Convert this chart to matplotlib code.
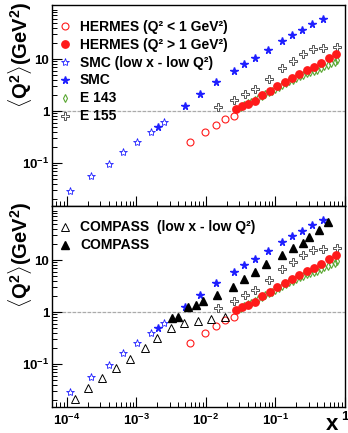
import matplotlib
matplotlib.use("Agg")
import matplotlib.pyplot as plt
from matplotlib.ticker import FixedLocator, LogLocator, NullFormatter, FixedFormatter
import numpy as np

plt.rcParams['font.family'] = ['Liberation Sans', 'DejaVu Sans']
plt.rcParams['font.weight'] = 'bold'
plt.rcParams['mathtext.fontset'] = 'custom'
plt.rcParams['mathtext.rm'] = 'Liberation Sans:bold'
plt.rcParams['mathtext.bf'] = 'Liberation Sans:bold'
plt.rcParams['mathtext.it'] = 'Liberation Sans:bold'
plt.rcParams['mathtext.sf'] = 'Liberation Sans:bold'

# ---------------- data (x, <Q^2>) ----------------
smc_lowx_x = [1.12e-4, 2.19e-4, 3.98e-4, 6.46e-4, 1.02e-3, 1.62e-3, 2.51e-3]
smc_lowx_q = [0.029, 0.057, 0.096, 0.165, 0.257, 0.39, 0.62]

smc_x = [2.04e-3, 5.0e-3, 8.1e-3, 1.41e-2, 2.51e-2, 3.55e-2, 5.0e-2, 7.8e-2,
         0.123, 0.174, 0.243, 0.339, 0.479]
smc_q = [0.49, 1.28, 2.09, 3.66, 5.8, 7.9, 10.6, 15.1, 21.9, 29.0, 37.0, 48.0, 60.0]

hermes_lo_x = [5.9e-3, 9.8e-3, 1.41e-2, 1.91e-2, 2.51e-2]
hermes_lo_q = [0.25, 0.40, 0.55, 0.70, 0.80]

hermes_hi_x = [0.0269, 0.0331, 0.0407, 0.0513, 0.0646, 0.0832, 0.105, 0.135,
               0.174, 0.219, 0.282, 0.355, 0.457, 0.589, 0.741]
hermes_hi_q = [1.11, 1.25, 1.34, 1.56, 2.0, 2.46, 2.98, 3.61, 4.37, 5.1,
               6.15, 7.2, 8.6, 10.3, 12.5]

e155_x = [0.0151, 0.0251, 0.0363, 0.0501, 0.0794, 0.126, 0.178, 0.251, 0.347,
          0.479, 0.759]
e155_q = [1.21, 1.63, 2.09, 2.61, 4.1, 6.6, 9.1, 12.6, 15.8, 16.3, 17.2]

e143_x = [0.0316, 0.0355, 0.0398, 0.0447, 0.0501, 0.0562, 0.0631, 0.0708, 0.0794,
          0.0891, 0.100, 0.112, 0.126, 0.141, 0.158, 0.178, 0.200, 0.224, 0.251,
          0.282, 0.316, 0.355, 0.398, 0.447, 0.501, 0.562, 0.631, 0.708, 0.776]
e143_q = [1.20, 1.30, 1.41, 1.52, 1.66, 1.80, 1.95, 2.11, 2.29, 2.48, 2.69, 2.92,
          3.16, 3.42, 3.72, 4.03, 4.37, 4.68, 5.01, 5.30, 5.62, 5.96, 6.31, 6.76,
          7.24, 7.76, 8.32, 8.91, 9.55]

compass_lowx_x = [1.32e-4, 2.0e-4, 3.24e-4, 5.0e-4, 8.1e-4, 1.32e-3, 2.0e-3,
                  3.1e-3, 4.9e-3, 7.8e-3, 1.2e-2, 1.9e-2]
compass_lowx_q = [0.021, 0.034, 0.053, 0.083, 0.127, 0.20, 0.32, 0.50, 0.62,
                  0.67, 0.74, 0.81]

compass_x = [3.3e-3, 3.9e-3, 5.5e-3, 7.1e-3, 9.1e-3, 1.45e-2, 2.45e-2, 3.55e-2,
             5.0e-2, 7.4e-2, 0.123, 0.178, 0.248, 0.302, 0.417, 0.562]
compass_q = [0.78, 0.80, 1.23, 1.36, 1.62, 2.16, 3.1, 4.25, 5.9, 8.5, 12.6,
             16.8, 21.8, 28.0, 38.0, 55.0]

xticks = [1e-4, 1e-3, 1e-2, 1e-1, 1.0]
xticklabels = [r'$10^{-4}$', r'$10^{-3}$', r'$10^{-2}$', r'$10^{-1}$', '']
yticks = [0.1, 1.0, 10.0]
yticklabels = [r'$10^{-1}$', '1', '10']

top_labels = ['HERMES (Q² < 1 GeV²)', 'HERMES (Q² > 1 GeV²)',
              'SMC (low x - low Q²)', 'SMC', 'E 143', 'E 155']
bottom_labels = ['COMPASS  (low x - low Q²)', 'COMPASS']

RED = '#ff1a1a'
BLUE = '#1f1fff'
GREEN = '#5aa832'
GRAY = '#555555'

styles = {
    'hlo': dict(marker='o', ms=5, mfc='none', mec=RED, mew=0.8),
    'hhi': dict(marker='o', ms=5.3, mfc=RED, mec=RED),
    'slo': dict(marker='*', ms=6, mfc='white', mec=BLUE, mew=0.6),
    'smc': dict(marker='*', ms=5.5, mfc=BLUE, mec=BLUE),
    'e143': dict(marker='d', ms=4, mfc='none', mec=GREEN, mew=0.8),
    'e155': dict(marker='P', ms=6, mfc='white', mec=GRAY, mew=0.7),
    'clo': dict(marker='^', ms=5.5, mfc='none', mec='black', mew=0.7),
    'chi': dict(marker='^', ms=5.5, mfc='black', mec='black'),
}

fig = plt.figure(figsize=(3.48, 4.33), dpi=100)
ax1 = fig.add_axes([52/348, 1-206/433, 293/348, 201/433])
ax2 = fig.add_axes([52/348, 1-407/433, 293/348, 201/433])


def common(ax):
    ax.set_xscale('log')
    ax.set_yscale('log')
    ax.set_xlim(6.1e-5, 1.0)
    ax.set_ylim(0.0149, 110)
    ax.axhline(1.0, color='#aaaaaa', lw=0.9, ls=(0, (3, 1)), zorder=1)
    ax.plot(hermes_lo_x, hermes_lo_q, ls='none', **styles['hlo'])
    ax.plot(hermes_hi_x, hermes_hi_q, ls='none', zorder=4, **styles['hhi'])
    ax.plot(smc_lowx_x, smc_lowx_q, ls='none', **styles['slo'])
    ax.plot(smc_x, smc_q, ls='none', **styles['smc'])
    ax.plot(e143_x, e143_q, ls='none', zorder=3, **styles['e143'])
    ax.plot(e155_x, e155_q, ls='none', **styles['e155'])
    for s in ax.spines.values():
        s.set_linewidth(1.0)
    ax.xaxis.set_major_locator(FixedLocator(xticks))
    ax.xaxis.set_minor_locator(LogLocator(base=10, subs=np.arange(2, 10), numticks=20))
    ax.xaxis.set_minor_formatter(NullFormatter())
    ax.yaxis.set_major_locator(FixedLocator(yticks))
    ax.yaxis.set_major_formatter(FixedFormatter(yticklabels))
    ax.yaxis.set_minor_locator(LogLocator(base=10, subs=np.arange(2, 10), numticks=20))
    ax.yaxis.set_minor_formatter(NullFormatter())
    ax.tick_params(which='both', direction='in', top=False, right=False)
    ax.tick_params(which='major', length=7, width=0.8, labelsize=9.5, pad=2)
    ax.tick_params(which='minor', length=3.5, width=0.7)


def legend(ax, keys, labels, top_px):
    # rows laid out in axes pixels: axes top at top_px, height 201 px, width 293 px
    for i, (k, lab) in enumerate(zip(keys, labels)):
        ypx = top_px + 21 + 18 * i
        yf = 1 - (ypx - top_px) / 201.0
        ax.plot([13 / 293.0], [yf], transform=ax.transAxes, ls='none',
                clip_on=False, **styles[k])
        ax.text(28 / 293.0, 1 - (ypx + 4.5 - top_px) / 201.0, lab,
                transform=ax.transAxes, ha='left', va='baseline', fontsize=10)


common(ax1)
ax1.set_xticklabels([])
legend(ax1, ['hlo', 'hhi', 'slo', 'smc', 'e143', 'e155'], top_labels, 5)

common(ax2)
ax2.plot(compass_lowx_x, compass_lowx_q, ls='none', **styles['clo'])
ax2.plot(compass_x, compass_q, ls='none', zorder=5, **styles['chi'])
ax2.set_xticks(xticks)
ax2.set_xticklabels(xticklabels)
ax2.tick_params(axis='x', which='major', pad=4)
legend(ax2, ['clo', 'chi'], bottom_labels, 206)

ax2.text(1.0, -0.02, '1', transform=ax2.transAxes, ha='center', va='top', fontsize=9.5)
fig.text(332/348, 1-424/433, 'x', ha='center', va='center', fontsize=16, fontweight='bold')

ylab = r'$\langle$Q$^2\rangle$(GeV$^2$)'
fig.text(20/348, 1-1/433, ylab, rotation=90, ha='center', va='top', fontsize=14.5)
fig.text(20/348, 1-201/433, ylab, rotation=90, ha='center', va='top', fontsize=14.5)

fig.savefig('out.png', dpi=100)
